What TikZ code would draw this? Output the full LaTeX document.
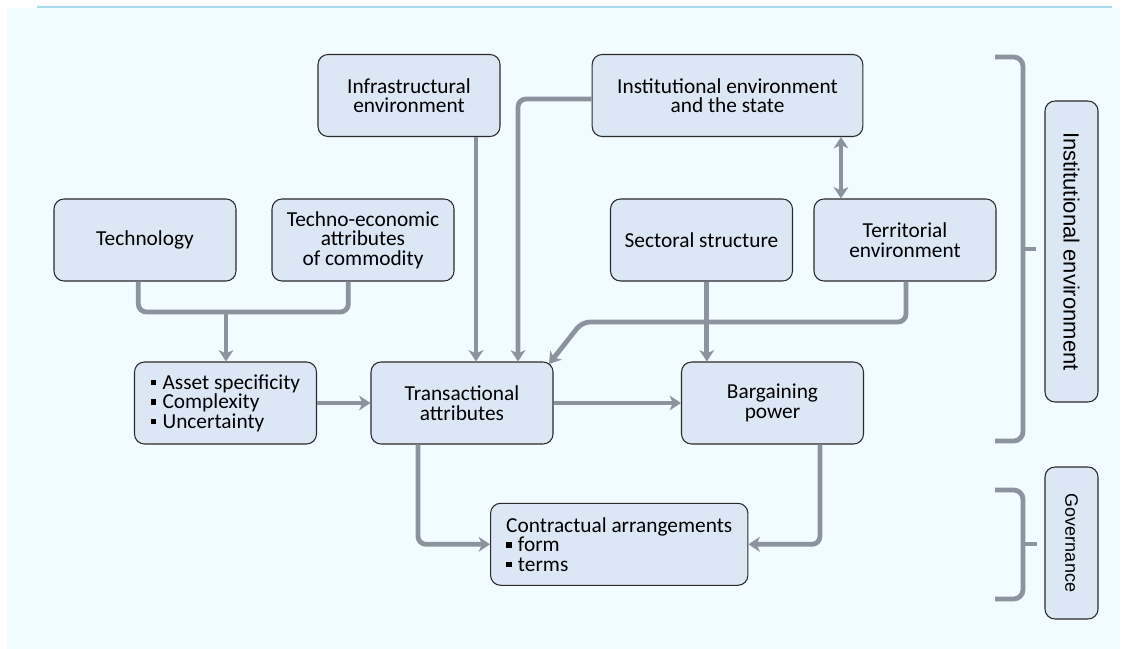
\documentclass[tikz,border=0pt]{standalone}
\usepackage{fontspec}
\setmainfont{Carlito}
\newfontfamily\arialf{Liberation Sans}
\usetikzlibrary{arrows.meta}
\definecolor{bgc}{HTML}{F0FCFF}
\definecolor{boxc}{HTML}{DCE7F6}
\definecolor{linec}{HTML}{8A939E}
\definecolor{topc}{HTML}{A9DAEE}
\definecolor{bordc}{HTML}{2B2B2B}
\newcommand\sqb{\rule[0.18em]{0.25em}{0.25em}\hspace{0.3em}}
\tikzset{
  box/.style={draw=bordc, line width=0.8pt, fill=boxc, rounded corners=7.5pt,
    minimum width=136.5pt, minimum height=61.5pt, align=center, inner sep=2pt,
    font=\fontsize{16}{14.7}\selectfont},
  conn/.style={draw=linec, line width=3.6pt, rounded corners=6pt},
  arr/.style={conn, -{Stealth[length=8.5pt,width=11pt,inset=2.5pt]}},
  arrtwo/.style={conn, {Stealth[length=8.5pt,width=11pt,inset=2.5pt]}-{Stealth[length=8.5pt,width=11pt,inset=2.5pt]}},
  brk/.style={draw=linec, line width=3.6pt, rounded corners=7pt},
}
\begin{document}
\begin{tikzpicture}[x=0.75pt,y=-0.75pt]
\useasboundingbox (0,0) rectangle (1125,649);
\fill[bgc] (7,8) rectangle (1120,649);
\draw[topc, line width=1.6pt] (37,7) -- (1112,7);

% boxes
\node[box] (infra) at (409,95.5) {Infrastructural\\environment};
\node[box, minimum width=203pt] (state) at (727.5,95.5) {Institutional environment\\and the state};
\node[box] (tech) at (145,240) {Technology};
\node[box] (techno) at (363,240) {Techno-economic\\attributes\\of commodity};
\node[box] (sector) at (701.5,240) {Sectoral structure};
\node[box] (terr) at (905,240) {Territorial\\environment};
\node[box, align=left] (asset) at (225.5,403) {\sqb Asset specificity\\\sqb Complexity\\\sqb Uncertainty};
\node[box] (trans) at (462,403) {Transactional\\attributes};
\node[box] (barg) at (772.5,403) {Bargaining\\power};
\node[box, align=left, minimum width=193pt] (contract) at (619.25,544.3) {Contractual arrangements\\\sqb form\\\sqb terms};
\node[box, rotate=-90, minimum width=225.75pt, minimum height=39.75pt, font=\arialf\fontsize{16.5}{16.5}\selectfont] (instenv) at (1071.5,251.5) {Institutional environment};
\node[box, rotate=-90, minimum width=114pt, minimum height=39.75pt, font=\arialf\fontsize{13.5}{13.5}\selectfont] (gov) at (1071.5,543) {Governance};

% connectors
\coordinate (j) at (226,312);
\draw[conn] ([xshift=-5pt]tech.south) |- (j) -| ([xshift=-11pt]techno.south);
\draw[arr] (j) -- (j |- asset.north);
\draw[arr] ([xshift=50.25pt]infra.south) -- ([xshift=50.25pt]infra.south |- trans.north);
\draw[arr] ([yshift=-2.6pt]state.west) -| ([xshift=42pt]trans.north);
\draw[arr] ([xshift=4pt]sector.south) -- ([xshift=4pt]sector.south |- barg.north);
\coordinate (tb) at (582,322);
\coordinate (tip) at (549,364);
\draw[arr] ([xshift=0.75pt]terr.south) |- (tb) -- (tip);
\draw[arrtwo] ([xshift=85.1pt]state.south) -- ([xshift=85.1pt]state.south |- terr.north);
\draw[arr] (asset.east) -- (trans.west);
\draw[arr] (trans.east) -- (barg.west);
\draw[arr] ([xshift=-33pt]trans.south) |- (contract.west);
\draw[arr] ([xshift=35.6pt]barg.south) |- (contract.east);

% brackets
\draw[brk] (995,57) -- (1023,57) -- (1023,441) -- (995,441);
\draw[draw=linec, line width=3.6pt] (1023,249) -- (1036,249);
\draw[brk] (995,490) -- (1023,490) -- (1023,599) -- (995,599);
\draw[draw=linec, line width=3.6pt] (1023,544) -- (1037,544);
\end{tikzpicture}
\end{document}
